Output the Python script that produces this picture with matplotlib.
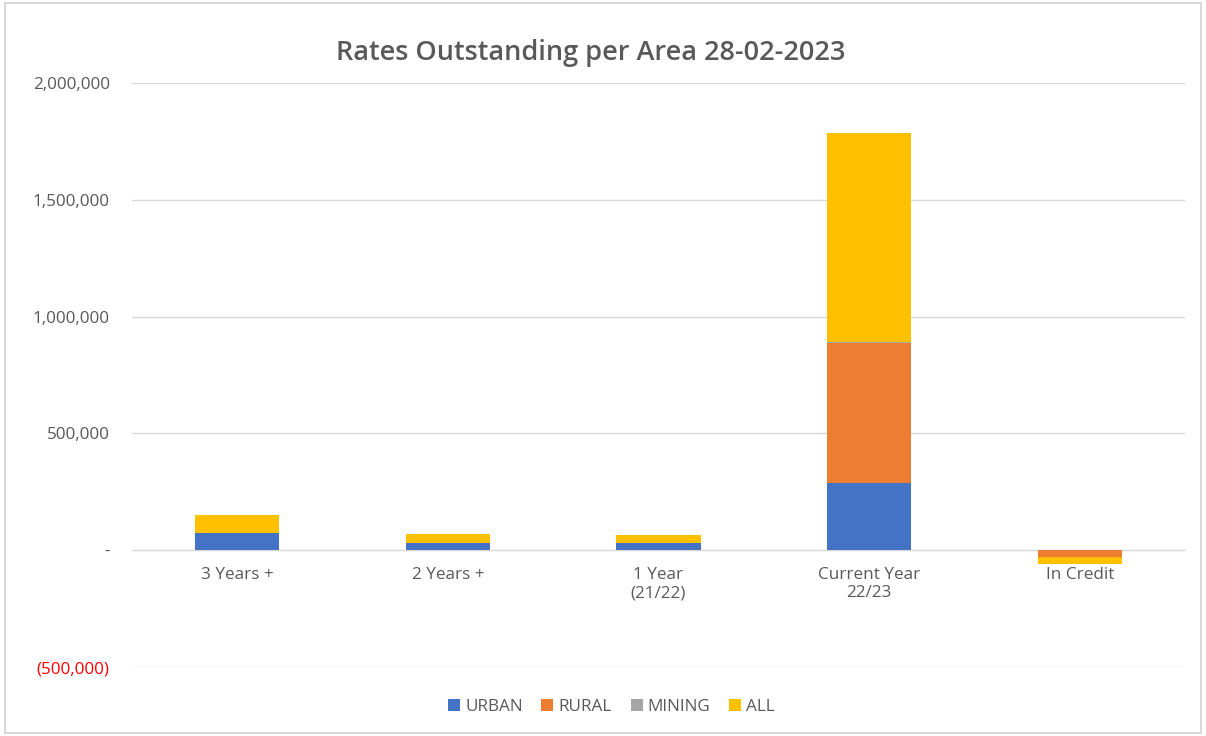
#!/usr/bin/env python3

import matplotlib.pyplot as plt
import numpy as np
from matplotlib.patches import Rectangle
from matplotlib.ticker import FuncFormatter

out_filename = "out.png"

categories = ["3 Years +", "2 Years +", "1 Year\n(21/22)", "Current Year\n22/23", "In Credit"]
urban = [73000, 31000, 31000, 288000, -1000]
rural = [0, 0, 0, 600000, -27000]
mining = [0, 0, 0, 5000, 0]
all_area = [77000, 40000, 34000, 895000, -31000]

series = [
    ("URBAN", urban, "#4472c4"),
    ("RURAL", rural, "#ed7d31"),
    ("MINING", mining, "#a5a5a5"),
    ("ALL", all_area, "#ffc000"),
]

text_color = "#595959"


def fmt(v, _pos):
    if v == 0:
        return "-"
    if v < 0:
        return f"({-v:,.0f})"
    return f"{v:,.0f}"


def main():
    plt.rcParams["font.family"] = ["Open Sans", "DejaVu Sans"]
    fig = plt.figure(figsize=(12.06, 7.36), dpi=100)
    ax = fig.add_axes([0.1095, 0.0937, 0.8731, 0.7935])

    x = np.arange(len(categories))
    pos_base = np.zeros(len(categories))
    neg_base = np.zeros(len(categories))
    for name, vals, color in series:
        vals = np.array(vals, dtype=float)
        base = np.where(vals >= 0, pos_base, neg_base)
        ax.bar(x, vals, width=0.4, bottom=base, color=color, label=name, zorder=2)
        pos_base = pos_base + np.clip(vals, 0, None)
        neg_base = neg_base + np.clip(vals, None, 0)

    ax.set_xlim(-0.5, len(categories) - 0.5)
    ax.set_ylim(-500000, 2000000)
    ax.set_yticks(np.arange(-500000, 2000001, 500000))
    ax.yaxis.set_major_formatter(FuncFormatter(fmt))
    ax.grid(axis="y", color="#d9d9d9", linewidth=1, zorder=0)
    ax.set_xticks(x)
    ax.set_xticklabels(categories, linespacing=1.05)
    ax.tick_params(axis="both", length=0, labelcolor=text_color, labelsize=12.3)
    ax.tick_params(axis="x", pad=12)
    ax.tick_params(axis="y", pad=16)
    for lab in ax.get_yticklabels():
        if lab.get_text().startswith("("):
            lab.set_color("red")

    for side in ("top", "right", "left"):
        ax.spines[side].set_visible(False)
    ax.spines["bottom"].set_position(("data", 0))
    ax.spines["bottom"].set_color("#d9d9d9")
    ax.spines["bottom"].set_zorder(1)

    fig.text(0.49, 0.928, "Rates Outstanding per Area 28-02-2023",
             ha="center", va="center", fontsize=19.5, fontweight="semibold",
             color=text_color)

    fig.legend(loc="center", bbox_to_anchor=(0.507, 0.04), ncol=4, frameon=False,
               fontsize=12.3, labelcolor=text_color, handlelength=0.7,
               handleheight=0.7, handletextpad=0.3, columnspacing=1.1)

    fig.patches.append(Rectangle((0.004, 0.004), 0.992, 0.992, transform=fig.transFigure,
                                 fill=False, edgecolor="#d9d9d9", linewidth=1.5))

    fig.savefig(out_filename, dpi=100)
    plt.close()


if __name__ == "__main__":
    main()
